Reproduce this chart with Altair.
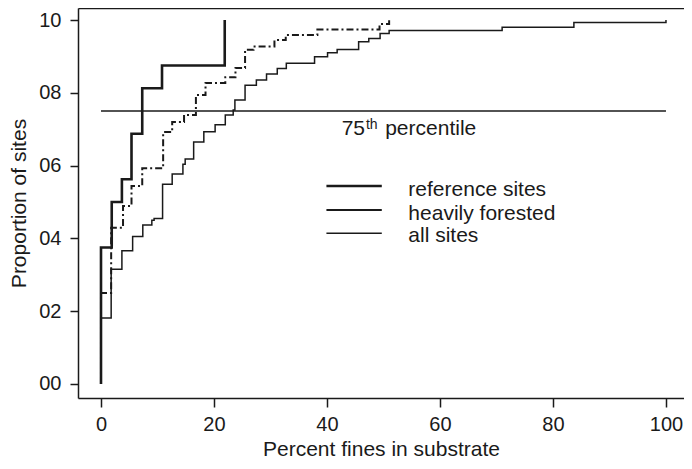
import altair as alt
import pandas as pd

FONT = "Liberation Sans"
INK = "#1a1a1a"

# --- data (ECDF step points) ---
ref_x = [0, 0, 1.9, 3.7, 5.4, 7.3, 10.8, 21.9]
ref_y = [0, 0.375, 0.5, 0.5625, 0.6875, 0.8125, 0.875, 1.0]

hf_x = [0, 0, 1.8, 3.9, 5.4, 7.3, 11.0, 12.6, 14.7, 16.8, 18.5, 22.0, 23.8,
        25.5, 27.0, 30.7, 32.7, 38.3, 49.3, 51.0]
hf_y = [0, 0.25, 0.429, 0.489, 0.544, 0.593, 0.692, 0.72, 0.739, 0.794, 0.827,
        0.843, 0.868, 0.918, 0.927, 0.945, 0.959, 0.974, 0.989, 1.0]

all_x = [0, 0, 1.8, 3.7, 5.6, 7.4, 9.0, 9.4, 10.9, 12.6, 14.5, 14.9, 16.4, 18.2,
         20.2, 22.0, 23.4, 23.7, 25.5, 27.5, 29.3, 31.2, 32.8, 37.8, 40.1, 41.8,
         45.6, 47.4, 49.4, 51.0, 71.0, 83.7, 100.0]
all_y = [0, 0.181, 0.315, 0.366, 0.405, 0.437, 0.45, 0.455, 0.549, 0.577, 0.604,
         0.618, 0.665, 0.693, 0.712, 0.739, 0.753, 0.78, 0.821, 0.835, 0.852,
         0.867, 0.881, 0.899, 0.910, 0.919, 0.940, 0.949, 0.963, 0.971, 0.98,
         0.993, 1.0]

series_names = ["reference sites", "heavily forested", "all sites"]
percentile_level = 0.75
x_ticks = [0, 20, 40, 60, 80, 100]
y_ticks = [0, 0.2, 0.4, 0.6, 0.8, 1.0]

def steps(xs, ys):
    return pd.DataFrame({"x": xs, "y": ys, "i": list(range(len(xs)))})

df_ref = steps(ref_x, ref_y)
df_hf = steps(hf_x, hf_y)
df_all = steps(all_x, all_y)

xscale = alt.Scale(domain=[-4.07, 103.19], nice=False, zero=False)
yscale = alt.Scale(domain=[-0.0385, 1.033], nice=False, zero=False)

x_axis = alt.Axis(values=x_ticks, title="Percent fines in substrate", grid=False,
                  tickSize=9, labelPadding=7,
                  titleBaseline="alphabetic", titleY=57)
y_axis = alt.Axis(values=y_ticks, title="Proportion of sites", grid=False,
                  tickSize=8, labelPadding=9,
                  titleBaseline="alphabetic", titleX=-53,
                  labelExpr="datum.value >= 1 ? '10' : '0' + round(datum.value * 10)")

ref_line = alt.Chart(df_ref).mark_line(
    interpolate="step-after", strokeWidth=2.6, color=INK
).encode(
    x=alt.X("x:Q", scale=xscale, axis=x_axis),
    y=alt.Y("y:Q", scale=yscale, axis=y_axis),
    order="i:Q",
)

hf_line = alt.Chart(df_hf).mark_line(
    interpolate="step-after", strokeWidth=2.0, color=INK, strokeDash=[7, 3, 2, 3]
).encode(
    x=alt.X("x:Q", scale=xscale, axis=None),
    y=alt.Y("y:Q", scale=yscale, axis=None),
    order="i:Q",
)

all_line = alt.Chart(df_all).mark_line(
    interpolate="step-after", strokeWidth=1.5, color=INK
).encode(
    x=alt.X("x:Q", scale=xscale, axis=None),
    y=alt.Y("y:Q", scale=yscale, axis=None),
    order="i:Q",
)

# 75th percentile rule, carrying the top frame axis
df_pct = pd.DataFrame({"x": [0], "x2": [100], "y": [percentile_level]})
pct_rule = alt.Chart(df_pct).mark_rule(strokeWidth=1.6, color=INK).encode(
    x=alt.X("x:Q", scale=xscale,
            axis=alt.Axis(orient="top", labels=False, ticks=False, title=None,
                          grid=False, domain=True)),
    x2="x2:Q",
    y=alt.Y("y:Q", scale=yscale, axis=None),
)

df_pct_txt = pd.DataFrame({
    "text": ["75", "th", "percentile"],
    "x": [42.6, 46.9, 50.3],
    "y": [0.684, 0.70, 0.684],
    "size": [21, 14, 21],
})
pct_txt = alt.Chart(df_pct_txt).mark_text(
    align="left", baseline="alphabetic", font=FONT, color=INK
).encode(
    x=alt.X("x:Q", scale=xscale, axis=None),
    y=alt.Y("y:Q", scale=yscale, axis=None),
    text="text:N",
    size=alt.Size("size:Q", scale=None),
)

# manual legend (all solid, as in the reference)
df_leg = pd.DataFrame({
    "name": series_names,
    "x": [39.9] * 3,
    "x2": [49.7] * 3,
    "y": [0.544, 0.478, 0.414],
    "ty": [0.516, 0.45, 0.39],
    "tx": [54.4] * 3,
    "w": [2.4, 2.0, 1.6],
})
leg_lines = alt.Chart(df_leg).mark_rule(color=INK).encode(
    x=alt.X("x:Q", scale=xscale, axis=None),
    x2="x2:Q",
    y=alt.Y("y:Q", scale=yscale, axis=None),
    strokeWidth=alt.StrokeWidth("w:Q", scale=None),
)
leg_text = alt.Chart(df_leg).mark_text(
    align="left", baseline="alphabetic", font=FONT, fontSize=21, color=INK
).encode(
    x=alt.X("tx:Q", scale=xscale, axis=None),
    y=alt.Y("ty:Q", scale=yscale, axis=None),
    text="name:N",
)

chart = alt.layer(
    ref_line, hf_line, all_line, pct_rule, pct_txt, leg_lines, leg_text
).resolve_axis(x="independent", y="independent").properties(
    width=606, height=390,
    autosize=alt.AutoSizeParams(type="none"),
    padding={"left": 70, "top": 0, "right": 0, "bottom": 63},
).configure_view(stroke=None).configure_axis(
    labelFont=FONT, titleFont=FONT, labelFontSize=20, titleFontSize=21,
    titleFontWeight="normal", labelColor=INK, titleColor=INK,
    domainColor=INK, tickColor=INK, domainWidth=1.5, tickWidth=1.5,
)

chart.save("out.html", embed_options={"renderer": "svg", "actions": False})
